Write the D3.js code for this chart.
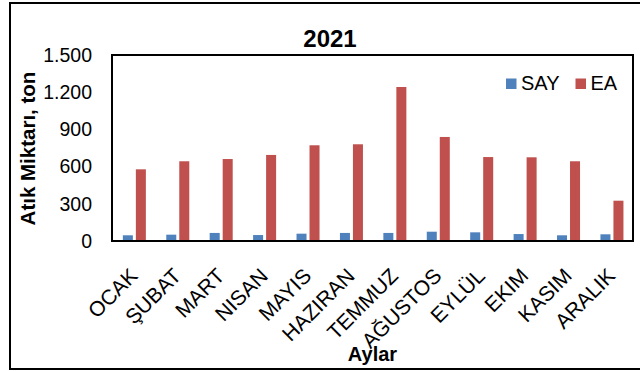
<!DOCTYPE html>
<html>
<head>
<meta charset="utf-8">
<script src="https://cdn.jsdelivr.net/npm/d3@7"></script>
<style>
  html, body { margin: 0; padding: 0; background: #fff; }
  svg { display: block; }
  text { font-family: Arial, "Liberation Sans", sans-serif; fill: #000; }
</style>
</head>
<body>
<svg id="chart" width="640" height="371"></svg>
<script>
// Monthly waste amounts (ton), 2021
const months = ["OCAK", "ŞUBAT", "MART", "NISAN", "MAYIS", "HAZIRAN", "TEMMUZ", "AĞUSTOS", "EYLÜL", "EKIM", "KASIM", "ARALIK"];
const seriesNames = ["SAY", "EA"];
const sayValues = [46, 51, 65, 48, 59, 65, 65, 75, 70, 56, 46, 54];
const eaValues = [578, 643, 661, 694, 772, 780, 1242, 839, 677, 675, 643, 325];
const yTicks = [0, 300, 600, 900, 1200, 1500];
const colors = { SAY: "#4F81BD", EA: "#C0504D" };

const svg = d3.select("#chart");

// Outer chart frame
svg.append("rect")
  .attr("x", 10).attr("y", 3)
  .attr("width", 640).attr("height", 366)
  .attr("fill", "#fff").attr("stroke", "#000").attr("stroke-width", 2);

const plot = { left: 112, top: 55, right: 633, bottom: 241 };

const x0 = d3.scaleBand().domain(months).range([plot.left, plot.right]).paddingInner(0).paddingOuter(0);
const bw = x0.bandwidth();
const x1 = d3.scaleBand().domain(seriesNames).range([bw * 0.25, bw * 0.78]).paddingInner(0.23).paddingOuter(0);
const y = d3.scaleLinear().domain([0, 1500]).range([plot.bottom, plot.top]);

const rows = months.map((m, i) => ({ month: m, SAY: sayValues[i], EA: eaValues[i] }));

// Bars
const groups = svg.append("g").selectAll("g")
  .data(rows).join("g")
  .attr("transform", d => `translate(${x0(d.month)},0)`);

groups.selectAll("rect")
  .data(d => seriesNames.map(k => ({ key: k, value: d[k] })))
  .join("rect")
  .attr("x", d => x1(d.key))
  .attr("y", d => y(d.value))
  .attr("width", x1.bandwidth())
  .attr("height", d => y(0) - y(d.value))
  .attr("fill", d => colors[d.key]);

// Plot area border
svg.append("rect")
  .attr("x", plot.left).attr("y", plot.top)
  .attr("width", plot.right - plot.left).attr("height", plot.bottom - plot.top)
  .attr("fill", "none").attr("stroke", "#000").attr("stroke-width", 2);

// Y axis labels (Turkish thousands separator)
const fmt = v => d3.format(",")(v).replace(/,/g, ".");
const yAxis = d3.axisLeft(y).tickValues(yTicks).tickFormat(fmt).tickSize(0).tickPadding(20);
const yg = svg.append("g").attr("transform", `translate(${plot.left},0)`).call(yAxis);
yg.select(".domain").remove();
yg.selectAll("text").attr("font-size", 19.5).attr("font-family", "Arial, 'Liberation Sans', sans-serif").attr("fill", "#000");

// X axis labels rotated
const xAxis = d3.axisBottom(x0).tickSize(0).tickPadding(0);
const xg = svg.append("g").attr("transform", `translate(0,${plot.bottom})`).call(xAxis);
xg.select(".domain").remove();
xg.selectAll(".tick text")
  .attr("font-size", 21)
  .attr("font-family", "Arial, 'Liberation Sans', sans-serif")
  .attr("fill", "#000")
  .attr("text-anchor", "end")
  .attr("dy", "0.35em")
  .attr("transform", "translate(0,31) rotate(-45)");

// Title
svg.append("text")
  .attr("x", 330).attr("y", 47)
  .attr("text-anchor", "middle")
  .attr("font-size", 24).attr("font-weight", "bold")
  .text("2021");

// Axis titles
svg.append("text")
  .attr("transform", `translate(35,${(70 + 227) / 2}) rotate(-90)`)
  .attr("text-anchor", "middle")
  .attr("font-size", 20.5).attr("font-weight", "bold")
  .text("Atık Miktarı, ton");

svg.append("text")
  .attr("x", (plot.left + plot.right) / 2).attr("y", 361)
  .attr("text-anchor", "middle")
  .attr("font-size", 20).attr("font-weight", "bold")
  .text("Aylar");

// Legend
const legend = svg.append("g");
const legendItems = [
  { key: "SAY", sx: 506, tx: 521 },
  { key: "EA", sx: 575.5, tx: 590.5 }
];
legendItems.forEach(it => {
  legend.append("rect")
    .attr("x", it.sx).attr("y", 78.5)
    .attr("width", 10.5).attr("height", 10.5)
    .attr("fill", colors[it.key]);
  legend.append("text")
    .attr("x", it.tx).attr("y", 89.5)
    .attr("font-size", 20)
    .text(it.key);
});
</script>
</body>
</html>
